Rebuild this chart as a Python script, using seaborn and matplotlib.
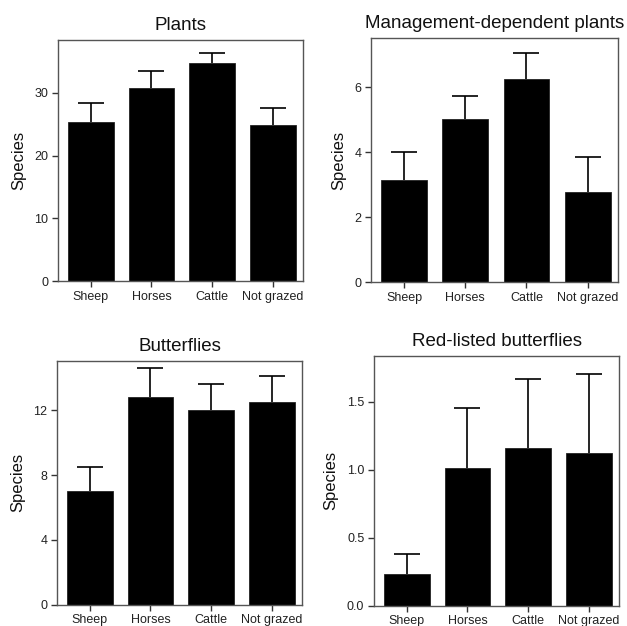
import matplotlib
matplotlib.use("Agg")
import matplotlib.pyplot as plt
import pandas as pd
import seaborn as sns

# grazing regimes
groups = ["Sheep", "Horses", "Cattle", "Not grazed"]

# mean species counts and upper error bar tips
plants_mean = [25.3, 30.8, 34.8, 24.9]
plants_top = [28.4, 33.4, 36.4, 27.6]
mgmt_mean = [3.14, 5.03, 6.26, 2.79]
mgmt_top = [4.01, 5.74, 7.06, 3.87]
butterflies_mean = [7.0, 12.85, 12.03, 12.52]
butterflies_top = [8.49, 14.62, 13.63, 14.1]
redlist_mean = [0.233, 1.009, 1.159, 1.122]
redlist_top = [0.381, 1.453, 1.664, 1.704]

titles = ["Plants", "Management-dependent plants", "Butterflies", "Red-listed butterflies"]
yticks = [[0, 10, 20, 30], [0, 2, 4, 6], [0, 4, 8, 12], [0.0, 0.5, 1.0, 1.5]]
ytick_labels = [["0", "10", "20", "30"], ["0", "2", "4", "6"],
                ["0", "4", "8", "12"], ["0.0", "0.5", "1.0", "1.5"]]
ylims = [38.4, 7.53, 15.07, 1.836]

panels = [
    (plants_mean, plants_top),
    (mgmt_mean, mgmt_top),
    (butterflies_mean, butterflies_top),
    (redlist_mean, redlist_top),
]

# axes rectangles in figure fractions
rects = [
    [0.0925, 0.551, 0.391, 0.385],
    [0.592, 0.5495, 0.394, 0.390],
    [0.0909, 0.034, 0.391, 0.390],
    [0.5965, 0.0324, 0.391, 0.399],
]

sns.set_style("white")
plt.rcParams["font.family"] = ["Liberation Sans", "DejaVu Sans"]

fig = plt.figure(figsize=(6.27, 6.26), dpi=100)

for i, (means, tops) in enumerate(panels):
    ax = fig.add_axes(rects[i])
    df = pd.DataFrame({"group": groups, "species": means})
    sns.barplot(data=df, x="group", y="species", color="black",
                width=0.75, errorbar=None, saturation=1,
                edgecolor="#222222", linewidth=0.6, ax=ax)
    # upper-only error bars with a cap at the tip
    xs = range(len(groups))
    ax.vlines(xs, means, tops, color="black", linewidth=1.2, zorder=3)
    ax.scatter(xs, tops, marker="_", s=330, color="black",
               linewidths=1.2, zorder=3)
    ax.set_xlim(-0.54, 3.5)
    ax.set_ylim(0, ylims[i])
    ax.set_yticks(yticks[i])
    ax.set_yticklabels(ytick_labels[i])
    ax.set_title(titles[i], fontsize=13.5, pad=7, color="#111111")
    ax.set_xlabel("")
    ax.set_ylabel("Species", fontsize=12, color="#111111", labelpad=6)
    ax.tick_params(axis="both", labelsize=9, length=4, width=1,
                   color="#333333", labelcolor="#222222", direction="out",
                   left=True, bottom=True, pad=3)
    for side in ["left", "right", "top", "bottom"]:
        ax.spines[side].set_color("#555555")
        ax.spines[side].set_linewidth(1.0)

fig.savefig("out.png", dpi=100)
